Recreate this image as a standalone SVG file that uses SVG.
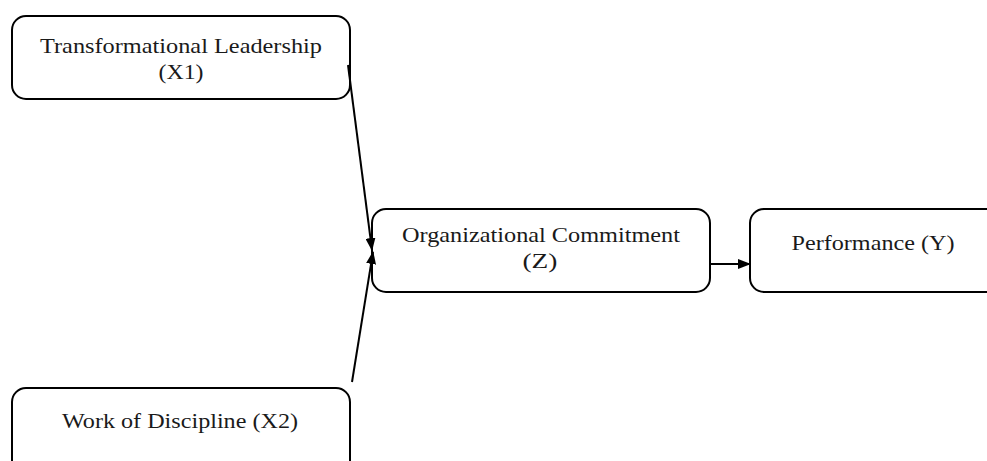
<svg xmlns="http://www.w3.org/2000/svg" width="987" height="461" viewBox="0 0 987 461">
<style>
.box{fill:#fff;stroke:#000;stroke-width:2}
.t{font-family:"Liberation Serif","Times New Roman",serif;font-size:21px;fill:#1a1a1a;text-anchor:middle}
.c{stroke:#000;stroke-width:2;fill:none}
</style>
<defs>
<marker id="ah" markerWidth="13" markerHeight="10" refX="12" refY="5" orient="auto" markerUnits="userSpaceOnUse">
<path d="M0,0 L13,5 L0,10 Z" fill="#000"/>
</marker>
</defs>
<rect width="987" height="461" fill="#fff"/>
<g id="x1">
<rect class="box" x="12" y="16" width="338" height="83" rx="14"/>
<text class="t" x="181" y="53" textLength="282" lengthAdjust="spacingAndGlyphs">Transformational Leadership</text>
<text class="t" x="181" y="79" textLength="45" lengthAdjust="spacingAndGlyphs">(X1)</text>
</g>
<g id="x2">
<rect class="box" x="12" y="388" width="338" height="100" rx="14"/>
<text class="t" x="180" y="428" textLength="236" lengthAdjust="spacingAndGlyphs">Work of Discipline (X2)</text>
</g>
<g id="z">
<rect class="box" x="372" y="209" width="338" height="83" rx="14"/>
<text class="t" x="541" y="242" textLength="278" lengthAdjust="spacingAndGlyphs">Organizational Commitment</text>
<text class="t" x="540" y="268" textLength="35" lengthAdjust="spacingAndGlyphs">(Z)</text>
</g>
<g id="y">
<rect class="box" x="750" y="209" width="260" height="83" rx="14"/>
<text class="t" x="873" y="250" textLength="163" lengthAdjust="spacingAndGlyphs">Performance (Y)</text>
</g>
<g id="connectors">
<line class="c" x1="348" y1="65" x2="372" y2="250" marker-end="url(#ah)"/>
<line class="c" x1="352" y1="382" x2="373" y2="252" marker-end="url(#ah)"/>
<line class="c" x1="710" y1="264" x2="750" y2="264" marker-end="url(#ah)"/>
</g>
</svg>
